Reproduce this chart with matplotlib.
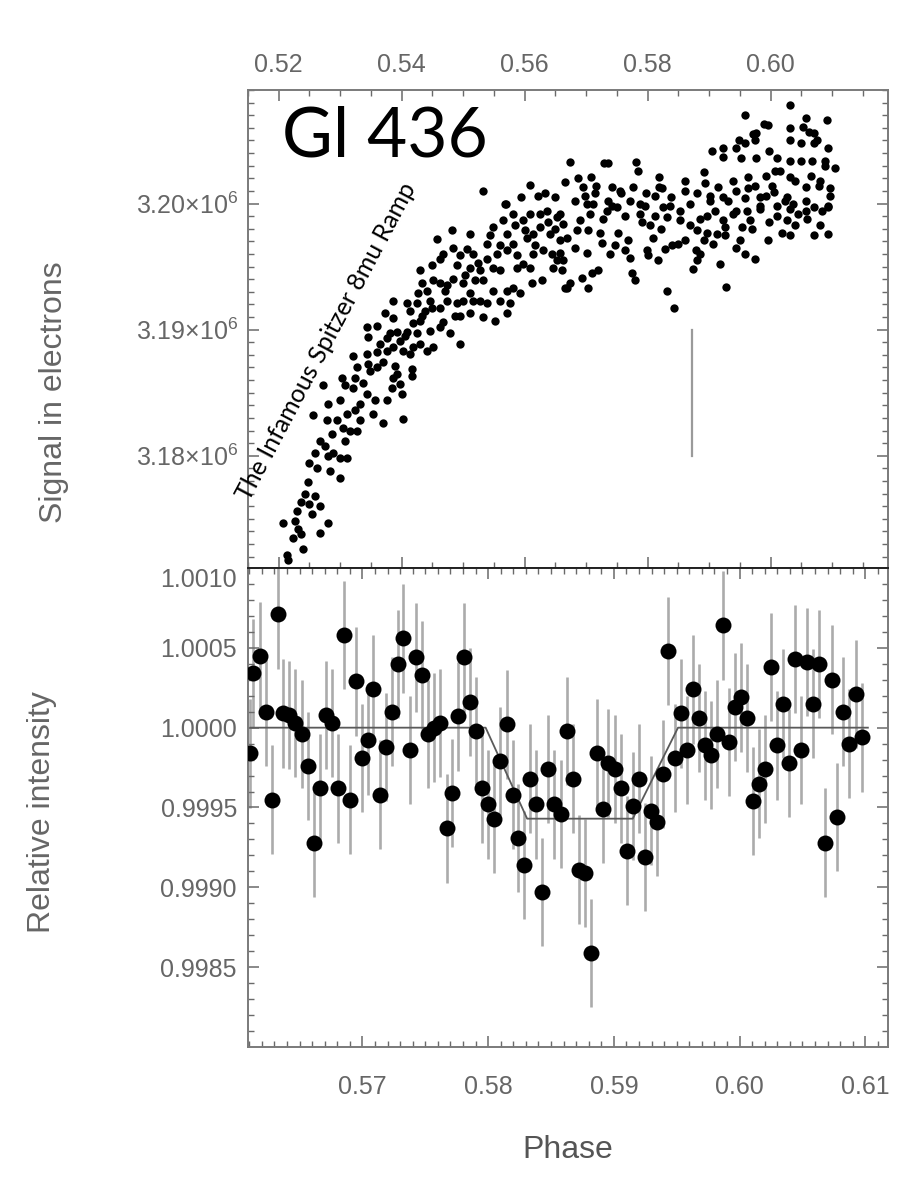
import matplotlib
matplotlib.use('Agg')
import matplotlib.pyplot as plt
import numpy as np

plt.rcParams['font.family'] = 'Liberation Sans'
plt.rcParams['mathtext.fontset'] = 'custom'
plt.rcParams['mathtext.rm'] = 'Liberation Sans'

# ---- top panel: raw signal (phase, kilo-electrons) ----
ramp_phase = [
    0.5215, 0.5213, 0.5207, 0.5223, 0.5226, 0.5231, 0.5239, 0.5237, 0.5229, 0.5237,
    0.5242, 0.5250, 0.5247, 0.5259, 0.5267, 0.5254, 0.5267, 0.5280, 0.5250, 0.5262,
    0.5259, 0.5267, 0.5275, 0.5280, 0.5288, 0.5299, 0.5299, 0.5311, 0.5286, 0.5294,
    0.5278, 0.5304, 0.5316, 0.5327, 0.5311, 0.5299, 0.5307, 0.5303, 0.5272, 0.5280,
    0.5255, 0.5324, 0.5332, 0.5321, 0.5324, 0.5337, 0.5327, 0.5321, 0.5343, 0.5348,
    0.5343, 0.5353, 0.5345, 0.5360, 0.5369, 0.5360, 0.5345, 0.5343, 0.5360, 0.5364,
    0.5376, 0.5376, 0.5386, 0.5381, 0.5392, 0.5397, 0.5402, 0.5392, 0.5386, 0.5397,
    0.5376, 0.5369, 0.5402, 0.5384, 0.5400, 0.5417, 0.5417, 0.5373, 0.5386, 0.5386,
    0.5408, 0.5413, 0.5425, 0.5418, 0.5408, 0.5425, 0.5430, 0.5418, 0.5413, 0.5441,
    0.5451, 0.5446, 0.5462, 0.5479, 0.5495, 0.5467, 0.5433, 0.5438, 0.5449, 0.5462,
    0.5474, 0.5490, 0.5426, 0.5433, 0.5441, 0.5430, 0.5449, 0.5462, 0.5451, 0.5462,
    0.5474, 0.5483, 0.5490, 0.5467, 0.5483, 0.5495, 0.5457, 0.5482, 0.5511, 0.5506,
    0.5516, 0.5511, 0.5500, 0.5511, 0.5500, 0.5516, 0.5495, 0.5511, 0.5527, 0.5539,
    0.5532, 0.5552, 0.5560, 0.5571, 0.5576, 0.5571, 0.5549, 0.5532, 0.5527, 0.5539,
    0.5524, 0.5549, 0.5560, 0.5555, 0.5539, 0.5549, 0.5565, 0.5571, 0.5581, 0.5571,
    0.5588, 0.5588, 0.5597, 0.5609, 0.5581, 0.5593, 0.5612, 0.5628, 0.5614, 0.5630,
    0.5645, 0.5653, 0.5661, 0.5666, 0.5646, 0.5604, 0.5614, 0.5625, 0.5641, 0.5658,
    0.5597, 0.5609, 0.5625, 0.5636, 0.5653, 0.5663, 0.5581, 0.5568,
    0.5532, 0.5570, 0.5609, 0.5594, 0.5622, 0.5633, 0.5650, 0.5674, 0.5687, 0.5708,
    0.5729, 0.5736, 0.5781, 0.5785, 0.5819, 0.5860, 0.5891, 0.5905, 0.5922, 0.5943,
    0.5959, 0.5959, 0.5977, 0.5995, 0.6032, 0.6032, 0.6057, 0.6091, 0.6053, 0.6070,
    0.6076, 0.6032, 0.6049, 0.6094, 0.5998, 0.5974, 0.5949, 0.5922, 0.5952, 0.5977,
    0.6011, 0.6032, 0.6067, 0.6088, 0.6104, 0.6008, 0.5992, 0.5964, 0.5939, 0.5915,
    0.5894, 0.5881, 0.5860, 0.5838, 0.5819, 0.5798, 0.5777, 0.5757, 0.5736, 0.5715,
    0.5695, 0.5742, 0.5702, 0.5825, 0.6032, 0.6057, 0.6081, 0.6097, 0.6026, 0.6005,
    0.5983, 0.5964, 0.5922, 0.5902, 0.6094, 0.6057, 0.6032, 0.5983, 0.5943, 0.6070,
    0.5990, 0.6062, 0.5972,
    0.5669, 0.5674, 0.5703, 0.5693, 0.5710, 0.5720, 0.5726, 0.5739, 0.5702, 0.5682,
    0.5663, 0.5669, 0.5685, 0.5707, 0.5734, 0.5752, 0.5768, 0.5772, 0.5775, 0.5780,
    0.5799, 0.5801, 0.5817, 0.5808, 0.5821, 0.5788, 0.5832, 0.5843, 0.5829, 0.5840,
    0.5850, 0.5861, 0.5878, 0.5874, 0.5886, 0.5881, 0.5891, 0.5881, 0.5897, 0.5907,
    0.5918, 0.5928, 0.5913, 0.5926, 0.5943, 0.5959, 0.5975, 0.5954, 0.5970, 0.5995,
    0.6019, 0.6032, 0.6070, 0.6094, 0.6081, 0.6060, 0.6044, 0.6027, 0.6011, 0.5983,
    0.5939, 0.5922, 0.5897, 0.5853, 0.5832, 0.5804, 0.6093, 0.6070, 0.6037, 0.6011,
    0.5962, 0.5869, 0.5788, 0.5750, 0.5711, 0.5658, 0.5690,
    0.5666, 0.5682, 0.5698, 0.5716, 0.5728, 0.5742, 0.5755, 0.5703, 0.5723, 0.5747,
    0.5764, 0.5772, 0.5796, 0.5812, 0.5824, 0.5837, 0.5853, 0.5869, 0.5886, 0.5812,
    0.5791, 0.5764, 0.5902, 0.5910, 0.5931, 0.5943, 0.5959, 0.5975, 0.5926, 0.5951,
    0.5967, 0.5992, 0.6003, 0.6016, 0.6040, 0.6049, 0.6065, 0.6078, 0.6089, 0.6097,
    0.6024, 0.6057, 0.6084, 0.5997, 0.6040, 0.5544, 0.5560, 0.5584, 0.5601, 0.5617,
    0.5638, 0.5650, 0.5658,
    0.5283, 0.5307, 0.5332, 0.5356, 0.5389, 0.5405, 0.5430, 0.5446, 0.5470, 0.5503,
    0.5519, 0.5487,
]
ramp_signal_k = [
    3171.7, 3172.1, 3174.7, 3173.5, 3174.8, 3174.2, 3172.6, 3173.8, 3175.6, 3176.3,
    3177.0, 3176.2, 3177.9, 3176.8, 3176.0, 3175.4, 3173.9, 3174.7, 3179.4, 3179.0,
    3180.2, 3181.2, 3180.8, 3180.0, 3180.2, 3179.8, 3178.2, 3179.8, 3181.7, 3182.8,
    3182.8, 3182.2, 3182.0, 3182.0, 3183.3, 3184.4, 3185.6, 3186.2, 3185.6, 3184.1,
    3183.2, 3183.6, 3184.1, 3185.4, 3186.2, 3185.8, 3187.0, 3187.9, 3188.1, 3186.7,
    3184.9, 3183.3, 3187.3, 3187.0, 3187.4, 3188.2, 3189.4, 3190.2, 3190.3, 3188.9,
    3189.3, 3188.3, 3188.6, 3189.7, 3189.8, 3189.1, 3188.3, 3186.5, 3186.2, 3185.7,
    3184.4, 3182.6, 3182.9, 3185.4, 3184.9, 3186.9, 3186.3, 3191.3, 3190.9, 3192.3,
    3192.1, 3191.5, 3192.1, 3190.5, 3189.8, 3189.7, 3188.9, 3188.6, 3188.1, 3188.3,
    3188.6, 3189.9, 3190.2, 3189.7, 3188.9, 3190.6, 3191.1, 3191.5, 3191.7, 3191.7,
    3192.3, 3192.1, 3192.9, 3193.7, 3193.1, 3194.7, 3195.1, 3195.6, 3193.9, 3193.7,
    3193.5, 3194.0, 3195.1, 3196.0, 3196.5, 3195.9, 3197.2, 3197.9, 3197.6, 3196.4,
    3196.0, 3194.9, 3193.7, 3192.9, 3192.3, 3192.3, 3191.1, 3191.3, 3192.3, 3192.1,
    3191.0, 3190.7, 3192.3, 3191.3, 3192.1, 3193.1, 3193.1, 3193.9, 3194.7, 3195.6,
    3195.3, 3194.9, 3194.7, 3196.0, 3196.8, 3198.1, 3198.7, 3197.6, 3196.8, 3196.3,
    3195.9, 3194.9, 3195.2, 3194.9, 3193.3, 3192.9, 3193.7, 3193.9, 3196.0, 3196.3,
    3196.0, 3195.5, 3194.7, 3193.3, 3194.9, 3197.3, 3197.6, 3198.1, 3197.6, 3197.1,
    3198.7, 3199.2, 3199.2, 3199.4, 3198.9, 3198.4, 3199.2, 3200.0,
    3201.0, 3200.0, 3201.5, 3200.5, 3200.6, 3200.8, 3200.5, 3203.3, 3202.0, 3202.1,
    3203.2, 3203.2, 3203.3, 3202.6, 3202.1, 3201.8, 3202.5, 3204.2, 3204.4, 3204.4,
    3204.8, 3207.0, 3205.6, 3206.2, 3207.8, 3206.0, 3206.8, 3206.6, 3206.1, 3205.6,
    3205.0, 3205.0, 3204.8, 3204.4, 3204.2, 3205.0, 3205.0, 3203.7, 3203.6, 3203.6,
    3203.6, 3203.4, 3203.4, 3203.0, 3202.8, 3202.6, 3202.2, 3202.1, 3201.8, 3201.3,
    3201.6, 3200.8, 3201.0, 3200.5, 3201.3, 3200.8, 3201.3, 3200.8, 3200.2, 3200.8,
    3201.3, 3201.3, 3200.0, 3199.7, 3202.1, 3201.3, 3201.8, 3201.2, 3200.5, 3200.9,
    3200.5, 3201.2, 3200.5, 3200.2, 3199.7, 3199.4, 3199.6, 3199.6, 3199.4, 3204.8,
    3206.3, 3205.7, 3205.5,
    3193.3, 3193.7, 3193.3, 3194.1, 3194.5, 3194.7, 3196.9, 3196.0, 3196.1, 3196.5,
    3195.5, 3197.3, 3197.9, 3199.2, 3199.4, 3197.7, 3197.1, 3195.7, 3194.5, 3193.9,
    3196.3, 3195.9, 3195.5, 3197.3, 3198.0, 3199.2, 3193.1, 3191.7, 3196.4, 3196.7,
    3196.8, 3197.1, 3196.3, 3194.8, 3196.0, 3195.5, 3197.1, 3197.9, 3197.7, 3196.8,
    3195.2, 3193.4, 3197.6, 3198.1, 3196.5, 3196.0, 3195.6, 3198.1, 3198.0, 3197.1,
    3197.7, 3197.5, 3197.5, 3197.6, 3198.3, 3198.8, 3199.2, 3198.7, 3199.0, 3199.8,
    3199.2, 3198.7, 3199.0, 3198.7, 3198.9, 3198.3, 3199.8, 3199.7, 3200.0, 3199.8,
    3199.4, 3200.0, 3200.0, 3199.7, 3200.0, 3199.2, 3198.7,
    3201.7, 3200.2, 3200.6, 3201.4, 3198.8, 3199.8, 3201.0, 3197.9, 3197.7, 3196.7,
    3199.0, 3200.2, 3199.8, 3200.6, 3201.2, 3199.8, 3199.4, 3198.3, 3198.8, 3199.0,
    3198.5, 3196.3, 3200.6, 3199.4, 3200.2, 3201.0, 3200.4, 3201.4, 3197.5, 3197.1,
    3198.7, 3200.6, 3201.4, 3202.6, 3201.8, 3203.4, 3202.2, 3201.4, 3203.4, 3200.6,
    3200.2, 3200.2, 3199.4, 3198.5, 3198.3, 3197.5, 3196.7, 3198.3, 3197.9, 3196.7,
    3198.5, 3198.0, 3196.1,
    3178.8, 3181.2, 3182.8, 3184.4, 3187.1, 3189.5, 3190.7, 3192.3, 3193.1, 3194.3,
    3193.9, 3191.1,
]
# grey bar drawn in the top panel
bar_phase = 0.5873
bar_range_k = [3180.0, 3190.0]

# ---- bottom panel: detrended light curve ----
lc_phase = [
    0.56109, 0.56133, 0.56189, 0.56237, 0.56284, 0.56332, 0.56372, 0.56419, 0.56467, 0.56523,
    0.56571, 0.56618, 0.56666, 0.56714, 0.56761, 0.56809, 0.56857, 0.56905, 0.56952, 0.57000,
    0.57048, 0.57087, 0.57143, 0.57191, 0.57239, 0.57286, 0.57326, 0.57382, 0.57429, 0.57477,
    0.57525, 0.57573, 0.57620, 0.57676, 0.57716, 0.57763, 0.57811, 0.57859, 0.57907, 0.57954,
    0.58002, 0.58050, 0.58097, 0.58153, 0.58201, 0.58241, 0.58288, 0.58336, 0.58384, 0.58431,
    0.58479, 0.58527, 0.58583, 0.58630, 0.58678, 0.58726, 0.58773, 0.58821, 0.58869, 0.58917,
    0.58956, 0.59012, 0.59060, 0.59107, 0.59155, 0.59203, 0.59250, 0.59298, 0.59346, 0.59394,
    0.59433, 0.59489, 0.59537, 0.59584, 0.59632, 0.59680, 0.59728, 0.59775, 0.59823, 0.59871,
    0.59918, 0.59966, 0.60014, 0.60062, 0.60109, 0.60157, 0.60205, 0.60252, 0.60300, 0.60348,
    0.60396, 0.60443, 0.60491, 0.60539, 0.60586, 0.60634, 0.60682, 0.60738, 0.60777, 0.60825,
    0.60873, 0.60928, 0.60976,
]
lc_flux = [
    0.99984, 1.00034, 1.00045, 1.00010, 0.99955, 1.00071, 1.00009, 1.00008, 1.00003, 0.99996,
    0.99976, 0.99928, 0.99962, 1.00008, 1.00003, 0.99962, 1.00058, 0.99955, 1.00029, 0.99981,
    0.99992, 1.00024, 0.99958, 0.99988, 1.00010, 1.00040, 1.00056, 0.99986, 1.00044, 1.00033,
    0.99996, 1.00000, 1.00003, 0.99937, 0.99959, 1.00007, 1.00044, 1.00016, 0.99998, 0.99962,
    0.99952, 0.99943, 0.99979, 1.00002, 0.99958, 0.99931, 0.99914, 0.99968, 0.99952, 0.99897,
    0.99974, 0.99952, 0.99946, 0.99998, 0.99968, 0.99911, 0.99909, 0.99859, 0.99984, 0.99949,
    0.99978, 0.99974, 0.99962, 0.99923, 0.99951, 0.99968, 0.99919, 0.99948, 0.99941, 0.99971,
    1.00048, 0.99981, 1.00009, 0.99986, 1.00024, 1.00006, 0.99989, 0.99983, 0.99996, 1.00064,
    0.99991, 1.00013, 1.00019, 1.00006, 0.99954, 0.99965, 0.99974, 1.00038, 0.99989, 1.00015,
    0.99978, 1.00043, 0.99986, 1.00041, 1.00015, 1.00040, 0.99928, 1.00030, 0.99944, 1.00010,
    0.99990, 1.00021, 0.99994,
]
lc_err = 0.00034

# transit model
model_phase = [0.5611, 0.5798, 0.5831, 0.5915, 0.5951, 0.6102]
model_flux = [1.0, 1.0, 0.99943, 0.99943, 1.0, 1.0]

W, H = 904, 1177
fig = plt.figure(figsize=(W / 100, H / 100), dpi=100)

left = 248 / W
width = (888 - 248) / W
ax1 = fig.add_axes([left, 1 - 568 / H, width, (568 - 90) / H])
ax2 = fig.add_axes([left, 1 - 1047 / H, width, (1047 - 568) / H])

grey = '#6a6a6a'
frame = '#7a7a7a'

# top panel
ax1.plot(ramp_phase, np.array(ramp_signal_k) * 1e3, 'o', color='black', ms=6, mew=0)
ax1.plot([bar_phase, bar_phase], np.array(bar_range_k) * 1e3, color='#9a9a9a', lw=1.6)
ax1.set_xlim(0.5150, 0.6191)
ax1.set_ylim(3171.1e3, 3209.0e3)
ax1.set_xticks([0.52, 0.54, 0.56, 0.58, 0.60])
ax1.set_xticks(np.arange(0.515, 0.62, 0.005), minor=True)
ax1.set_yticks([3.18e6, 3.19e6, 3.20e6],
               ['3.18×10$^{6}$', '3.19×10$^{6}$', '3.20×10$^{6}$'])
ax1.set_yticks(np.arange(3.172e6, 3.2091e6, 1000), minor=True)
ax1.tick_params(axis='x', which='both', top=True, bottom=True,
                labeltop=True, labelbottom=False)
ax1.tick_params(axis='x', which='major', pad=9)
ax1.tick_params(axis='y', which='major', pad=7)

# bottom panel
ax2.errorbar(lc_phase, lc_flux, yerr=lc_err, fmt='none', ecolor='#ababab',
             elinewidth=1.9, capsize=0, zorder=1)
ax2.plot(model_phase, model_flux, color='#5a5a5a', lw=1.3, zorder=2)
ax2.plot(lc_phase, lc_flux, 'o', color='black', ms=11.5, mew=0, zorder=3)
ax2.set_xlim(0.5609, 0.6118)
ax2.set_ylim(0.9980, 1.0010)
ax2.set_xticks([0.57, 0.58, 0.59, 0.60, 0.61])
ax2.set_xticks(np.arange(0.561, 0.612, 0.001), minor=True)
ax2.set_yticks([0.9985, 0.9990, 0.9995, 1.0000, 1.0005, 1.0010],
               ['0.9985', '0.9990', '0.9995', '1.0000', '1.0005', '1.0010'])
ax2.set_yticks(np.arange(0.9981, 1.00101, 0.0001), minor=True)
ax2.get_yticklabels()[-1].set_va('top')
ax2.tick_params(axis='x', which='major', pad=20)
ax2.tick_params(axis='y', which='major', pad=8)

for ax in (ax1, ax2):
    ax.tick_params(which='both', direction='in', top=True, right=True,
                   colors=grey, labelcolor='#666666', labelsize=18)
    ax.tick_params(which='major', length=8, width=1.1)
    ax.tick_params(which='minor', length=4, width=1.0)
    for s in ax.spines.values():
        s.set_color(frame)
        s.set_linewidth(1.4)
ax1.spines['bottom'].set_color('#222222')
ax2.spines['top'].set_color('#222222')

fig.text(54 / W, 1 - 392 / H, 'Signal in electrons', rotation=90,
         ha='center', va='center', fontsize=23, color='#666666')
fig.text(42 / W, 1 - 812 / H, 'Relative intensity', rotation=90,
         ha='center', va='center', fontsize=23, color='#666666')
fig.text(568 / W, 1 - 1150 / H, 'Phase', ha='center', va='center',
         fontsize=23, color='#555555')

ax1.text(0.053, 0.860, 'Gl 436', transform=ax1.transAxes, fontsize=50,
         family='Lato', ha='left', va='baseline', color='black')
ax1.text(0.5278, 3189.1e3, 'The Infamous Spitzer 8mu Ramp', fontsize=18,
         family='Lato', rotation=62, rotation_mode='anchor',
         ha='center', va='center', color='black')

fig.savefig('out.png', dpi=100, facecolor='white')
